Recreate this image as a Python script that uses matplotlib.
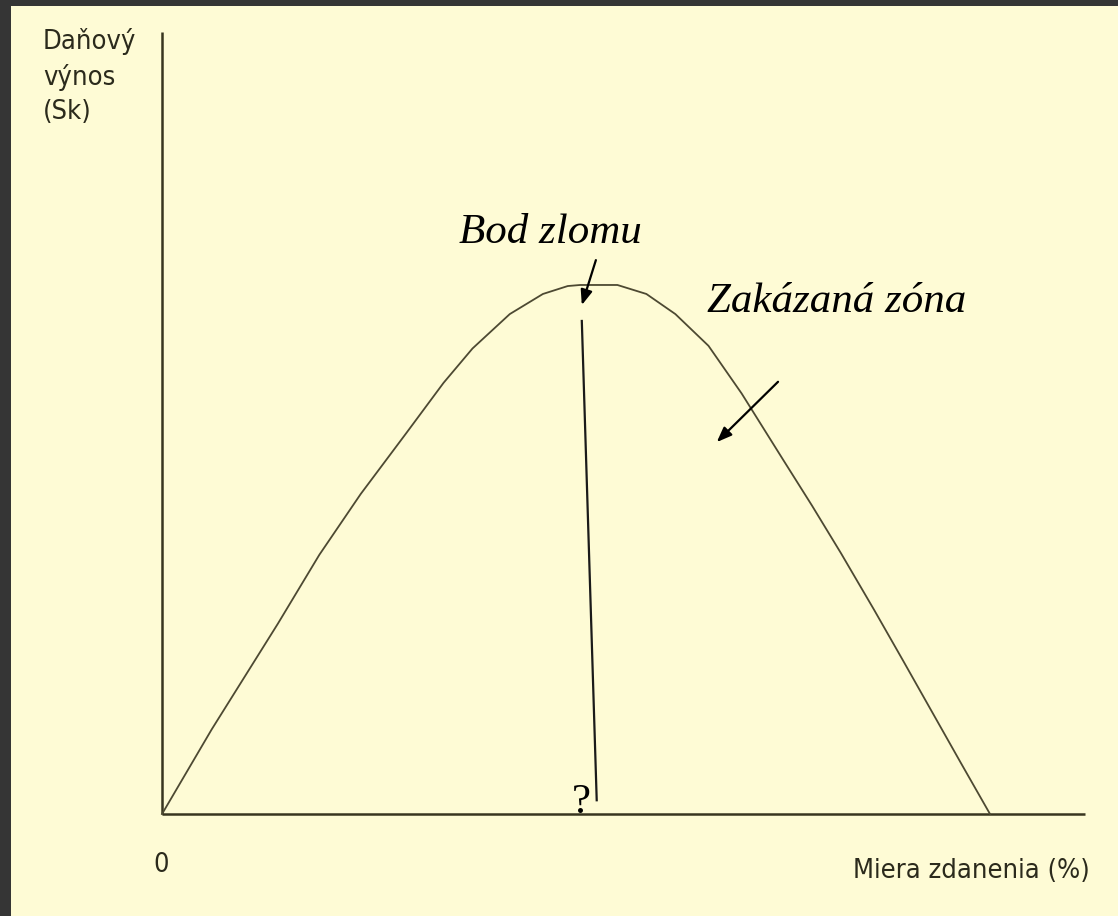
import matplotlib
matplotlib.use('Agg')
import matplotlib.pyplot as plt
from matplotlib import font_manager
from matplotlib.patches import Rectangle

# Laffer curve (tax rate %, revenue as % of the peak)
tax_rate = [0, 6, 14, 19, 24, 29.5, 34, 37.5, 42, 46, 49, 50.5, 55, 58.5, 62,
            66, 68, 70, 72, 75, 78.5, 82, 86, 89.5, 93, 96.5, 100]
revenue = [0, 16, 36, 49, 60.5, 72, 81.5, 88, 94.5, 98.3, 99.8, 100, 100, 98.3,
           94.5, 88.5, 84, 79.5, 74.5, 67, 58.3, 49.3, 38.6, 29, 19.3, 9.6, 0]

x_label = 'Miera zdanenia (%)'
y_label = 'Daňový\nvýnos\n(Sk)'
peak_label = 'Bod zlomu'
zone_label = 'Zakázaná zóna'

condensed = any('Condensed' in f.fname for f in font_manager.fontManager.ttflist
                if f.name == 'DejaVu Sans')
sans = 'DejaVu Sans'
sans_size = 19.5 if condensed else 17
serif = 'Liberation Serif'
label_kw = dict(family=sans, fontsize=sans_size, color='#2b2a1c',
                fontstretch='condensed' if condensed else 'normal')

fig = plt.figure(figsize=(11.18, 9.16), dpi=100)
fig.patch.set_facecolor('#353535')
fig.add_artist(Rectangle((11 / 1118, 0), 1, 910 / 916, transform=fig.transFigure,
                         facecolor='#fefbd5', edgecolor='none', zorder=0))

ax = fig.add_axes([0, 0, 1, 1])
ax.set_facecolor('none')
ax.set_xlim(-19.57, 115.46)
ax.set_ylim(-19.28, 153.87)
ax.axis('off')

# axes drawn by hand, like the original sketch
ax.plot([0, 0], [0, 147.8], color='#38351f', lw=1.8, solid_capstyle='butt')
ax.plot([0, 111.5], [0, 0], color='#38351f', lw=1.8, solid_capstyle='butt')

ax.plot(tax_rate, revenue, color='#4d4932', lw=1.3)

# line from the peak down to the unknown rate
ax.plot([50.7, 52.5], [93.2, 2.6], color='#1a1a1a', lw=1.6)

arrow = dict(arrowstyle='-|>,head_length=0.9,head_width=0.35', color='black', lw=1.6,
             shrinkA=0, shrinkB=0)
ax.annotate('', xy=(50.7, 96.2), xytext=(52.4, 104.7), arrowprops=arrow)
ax.annotate('', xy=(67.0, 70.3), xytext=(74.4, 81.7), arrowprops=arrow)

ax.text(46.9, 108, peak_label, family=serif, style='italic', fontsize=31,
        ha='center', va='baseline', color='black')
ax.text(65.8, 94.9, zone_label, family=serif, style='italic', fontsize=31,
        ha='left', va='baseline', color='black')
ax.text(50.7, 0.2, '?', family=serif, fontsize=31, ha='center', va='baseline',
        color='black')

ax.text(-14.4, 148.5, y_label, ha='left', va='top', linespacing=1.4, **label_kw)
ax.text(-0.1, -7.2, '0', ha='center', va='top', **label_kw)
ax.text(112.1, -8.3, x_label, ha='right', va='top', **label_kw)

fig.savefig('out.png', dpi=100, facecolor=fig.get_facecolor())
